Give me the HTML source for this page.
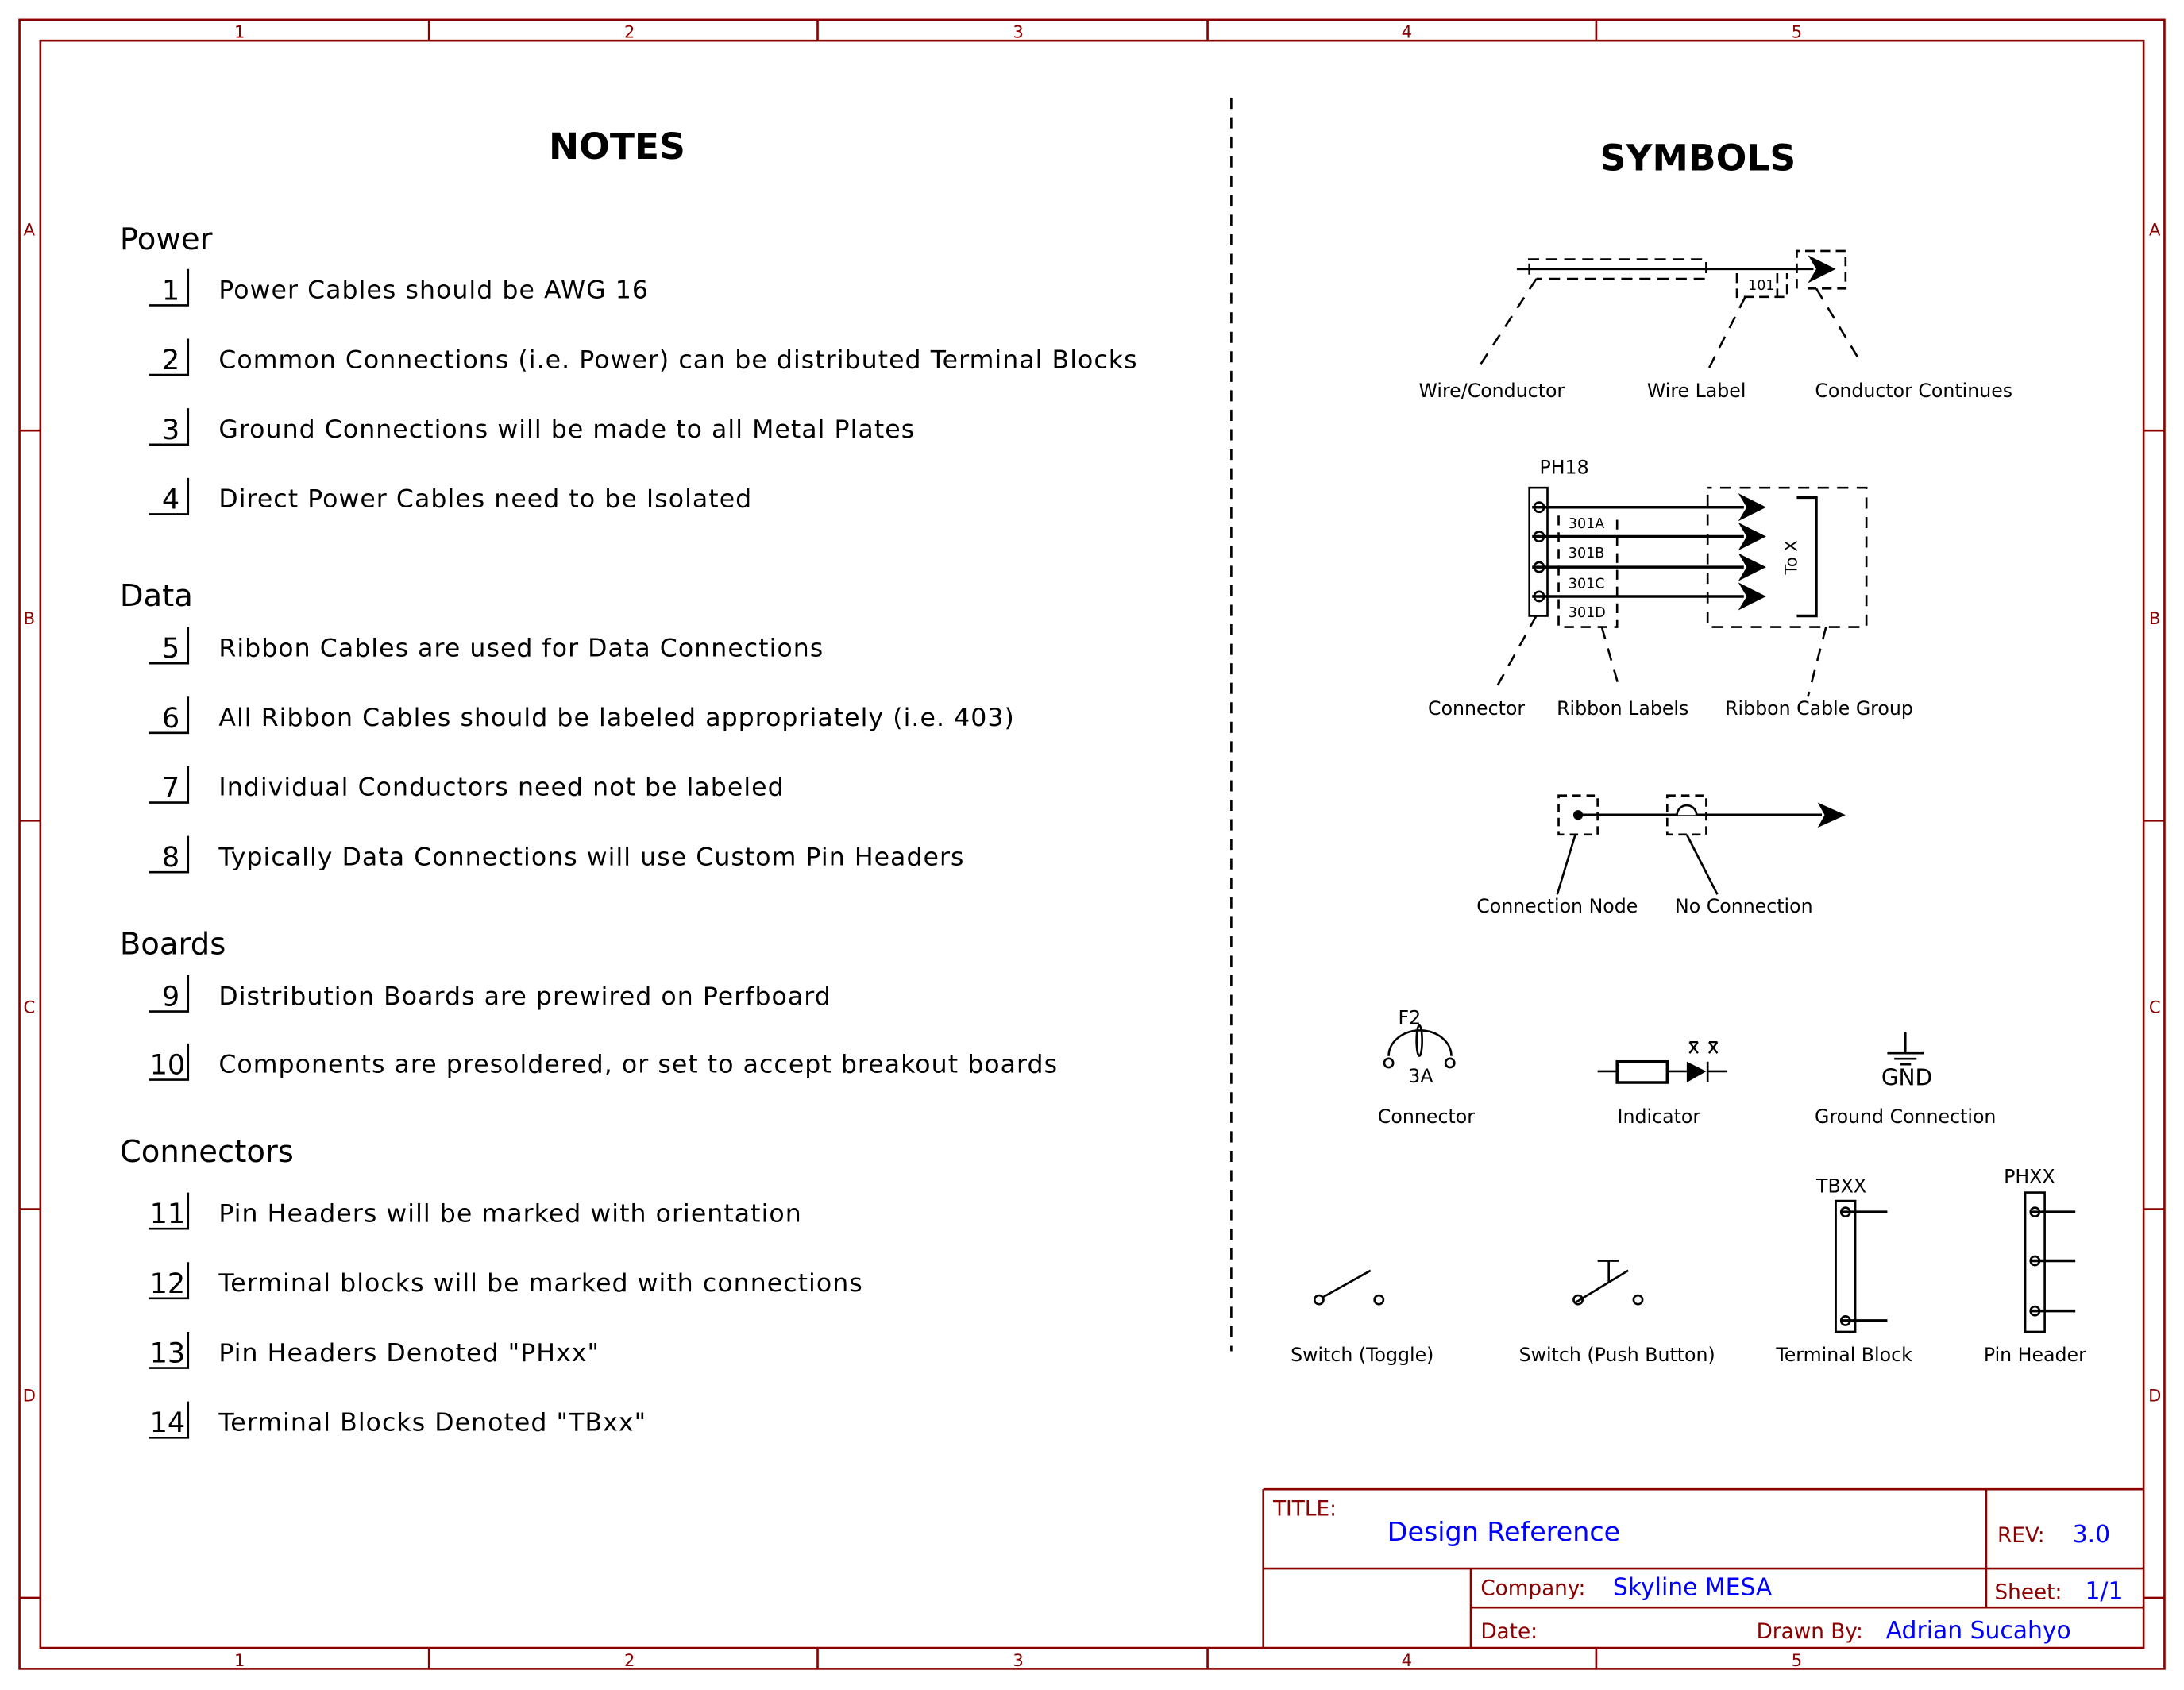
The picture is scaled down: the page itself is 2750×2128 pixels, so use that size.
<!DOCTYPE html>
<html><head><meta charset="utf-8"><style>
html,body{margin:0;padding:0;background:#fff;}
svg{display:block;}
text{font-family:"DejaVu Sans","Liberation Sans",sans-serif;}
</style></head><body>
<svg width="2750" height="2128" viewBox="0 0 1568 1213" xmlns="http://www.w3.org/2000/svg">
<g fill="none" stroke="#8b0000" stroke-width="1.5">
<rect x="14" y="14" width="1540" height="1184"/>
<rect x="29" y="29" width="1510" height="1154"/>
<path d="M308 14V29M587 14V29M867 14V29M1146 14V29M308 1183V1198M587 1183V1198M867 1183V1198M1146 1183V1198"/>
<path d="M14 309H29M14 589H29M14 868H29M14 1147H29M1539 309H1554M1539 589H1554M1539 868H1554M1539 1147H1554"/>
<path d="M907 1069H1539M907 1069V1183M1426 1069V1154M907 1126H1539M1056 1126V1183M1056 1154H1539"/>
</g>
<g fill="#8b0000" font-size="12" text-anchor="middle">
<text x="172" y="27">1</text><text x="452" y="27">2</text><text x="731" y="27">3</text><text x="1010" y="27">4</text><text x="1290" y="27">5</text>
<text x="172" y="1196">1</text><text x="452" y="1196">2</text><text x="731" y="1196">3</text><text x="1010" y="1196">4</text><text x="1290" y="1196">5</text>
<text x="21" y="169">A</text><text x="21" y="448">B</text><text x="21" y="727">C</text><text x="21" y="1006">D</text>
<text x="1547" y="169">A</text><text x="1547" y="448">B</text><text x="1547" y="727">C</text><text x="1547" y="1006">D</text>
</g>
<g font-size="15" fill="#8b0000">
<text x="914" y="1088">TITLE:</text>
<text x="1434" y="1107">REV:</text>
<text x="1063" y="1145">Company:</text>
<text x="1432" y="1148">Sheet:</text>
<text x="1063" y="1176">Date:</text>
<text x="1261" y="1176">Drawn By:</text>
</g>
<g fill="#0000ff">
<text x="996" y="1106" font-size="19">Design Reference</text>
<text x="1488" y="1107" font-size="17">3.0</text>
<text x="1158" y="1145" font-size="17">Skyline MESA</text>
<text x="1497" y="1148" font-size="17">1/1</text>
<text x="1354" y="1176" font-size="17">Adrian Sucahyo</text>
</g>

<!-- NOTES -->
<text x="443" y="114" font-size="26" font-weight="bold" text-anchor="middle">NOTES</text>
<g font-size="22"><text x="86" y="179">Power</text><text x="86" y="435">Data</text><text x="86" y="685">Boards</text><text x="86" y="834">Connectors</text></g>
<g font-size="18" letter-spacing="0.6">
<text x="157" y="214">Power Cables should be AWG 16</text>
<text x="157" y="264">Common Connections (i.e. Power) can be distributed Terminal Blocks</text>
<text x="157" y="314">Ground Connections will be made to all Metal Plates</text>
<text x="157" y="364">Direct Power Cables need to be Isolated</text>
<text x="157" y="471">Ribbon Cables are used for Data Connections</text>
<text x="157" y="521">All Ribbon Cables should be labeled appropriately (i.e. 403)</text>
<text x="157" y="571">Individual Conductors need not be labeled</text>
<text x="157" y="621">Typically Data Connections will use Custom Pin Headers</text>
<text x="157" y="721">Distribution Boards are prewired on Perfboard</text>
<text x="157" y="770">Components are presoldered, or set to accept breakout boards</text>
<text x="157" y="877">Pin Headers will be marked with orientation</text>
<text x="157" y="927">Terminal blocks will be marked with connections</text>
<text x="157" y="977">Pin Headers Denoted "PHxx"</text>
<text x="157" y="1027">Terminal Blocks Denoted "TBxx"</text>
</g>
<g font-size="20" text-anchor="end">
<text x="129" y="215">1</text><text x="129" y="265">2</text><text x="129" y="315">3</text><text x="129" y="365">4</text>
<text x="129" y="472">5</text><text x="129" y="522">6</text><text x="129" y="572">7</text><text x="129" y="622">8</text>
<text x="129" y="722">9</text><text x="133" y="771">10</text>
<text x="133" y="878">11</text><text x="133" y="928">12</text><text x="133" y="978">13</text><text x="133" y="1028">14</text>
</g>
<g stroke="#000" stroke-width="1.5" fill="none">
<path d="M135 193V219H107M135 243V269H107M135 293V319H107M135 343V369H107M135 450V476H107M135 500V526H107M135 550V576H107M135 600V626H107M135 700V726H107M135 749V775H107M135 856V882H107M135 906V932H107M135 956V982H107M135 1006V1032H107"/>
<path d="M884 70V970" stroke-dasharray="8,6"/>
</g>

<!-- SYMBOLS -->
<text x="1219" y="122" font-size="26" font-weight="bold" text-anchor="middle">SYMBOLS</text>
<g stroke="#000" fill="none" stroke-width="1.5">
<path d="M1089 193H1302M1098 189V197"/>
<path d="M1097 186H1225V200H1103" stroke-dasharray="8,5"/>
<path d="M1247 196V213H1283V196M1276 196V213" stroke-dasharray="7,4"/>
<path d="M1290 207V180H1325V207H1298" stroke-dasharray="7,4"/>
<path d="M1103 200L1060 266M1253 213L1226 266M1304 207L1336 260" stroke-dasharray="9,7"/>
<rect x="1098" y="350" width="13" height="92"/>
<circle cx="1105" cy="364" r="3.5"/><circle cx="1105" cy="385" r="3.5"/><circle cx="1105" cy="407" r="3.5"/><circle cx="1105" cy="428" r="3.5"/>
<path d="M1100 364H1252M1100 385H1252M1100 407H1252M1100 428H1252" stroke-width="2"/>
<path d="M1119 370V450H1161V370" stroke-dasharray="7,5"/>
<path d="M1226 355V450H1340V350H1226" stroke-dasharray="8,6"/>
<path d="M1290 357H1304V442H1290" stroke-width="2"/>
<path d="M1103 442L1074 494M1150 450L1162 492M1311 450L1298 500" stroke-dasharray="9,7"/>
<path d="M1133 585H1308" stroke-width="2"/>
<path d="M1119 571H1147V599H1119Z" stroke-dasharray="6,4"/>
<path d="M1197 571H1225V599H1197Z" stroke-dasharray="6,4"/>
<path d="M1131 599L1118 642M1211 599L1233 642"/>
<path d="M997 758A22 18 0 0 1 1042 758"/>
<ellipse cx="1019" cy="747" rx="2" ry="11"/>
<circle cx="997" cy="763" r="3.2"/><circle cx="1041" cy="763" r="3.2"/>
<path d="M1147 769H1161M1197 769H1211M1226 762V777M1226 769H1240"/>
<rect x="1161" y="762" width="36" height="15" stroke-width="2"/>
<path d="M1368 741V756M1355 756H1381M1360 760H1376M1364 764H1372"/>
<circle cx="947" cy="933" r="3.2"/><circle cx="990" cy="933" r="3.2"/>
<path d="M950 931L984 912"/>
<circle cx="1133" cy="933" r="3.2"/><circle cx="1176" cy="933" r="3.2"/>
<path d="M1131 935L1169 912M1147 905H1162M1155 905V920"/>
<rect x="1318" y="862" width="14" height="94"/>
<circle cx="1325" cy="870" r="3.2"/><circle cx="1325" cy="948" r="3.2"/>
<path d="M1322 870H1355M1322 948H1355" stroke-width="2"/>
<rect x="1454" y="856" width="14" height="100"/>
<circle cx="1461" cy="870" r="3.2"/><circle cx="1461" cy="905" r="3.2"/><circle cx="1461" cy="941" r="3.2"/>
<path d="M1458 870H1490M1458 905H1490M1458 941H1490" stroke-width="2"/>
</g>
<g fill="#000">
<path d="M1298 183L1318 193L1298 203L1304 193Z"/>
<path d="M1248 354L1268 364L1248 374L1254 364Z"/>
<path d="M1248 375L1268 385L1248 395L1254 385Z"/>
<path d="M1248 397L1268 407L1248 417L1254 407Z"/>
<path d="M1248 418L1268 428L1248 438L1254 428Z"/>
<path d="M1305 576L1325 585L1305 594L1310 585Z"/>
<circle cx="1133" cy="585" r="3.5"/>
<path d="M1211 762L1225 769L1211 777Z"/>
</g>
<path d="M1204 585A7 7 0 0 1 1218 585" stroke="#000" stroke-width="1.5" fill="#fff"/>
<g stroke="#000" stroke-width="1.3" fill="none">
<path d="M1213 748L1219 756M1213 748H1219M1213 756L1219 748M1227 748L1233 756M1227 748H1233M1227 756L1233 748"/>
</g>
<g font-size="10">
<text x="1255" y="208">101</text>
<text x="1126" y="379">301A</text><text x="1126" y="400">301B</text><text x="1126" y="422">301C</text><text x="1126" y="443">301D</text>
</g>
<text transform="translate(1290,400) rotate(-90)" font-size="12" text-anchor="middle">To X</text>
<g font-size="13.5" text-anchor="middle">
<text x="1071" y="285">Wire/Conductor</text><text x="1218" y="285">Wire Label</text><text x="1374" y="285">Conductor Continues</text>
<text x="1123" y="340">PH18</text>
<text x="1060" y="513">Connector</text><text x="1165" y="513">Ribbon Labels</text><text x="1306" y="513">Ribbon Cable Group</text>
<text x="1118" y="655">Connection Node</text><text x="1252" y="655">No Connection</text>
<text x="1012" y="735">F2</text><text x="1020" y="777">3A</text>
<text x="1369" y="779" font-size="16">GND</text>
<text x="1024" y="806">Connector</text><text x="1191" y="806">Indicator</text><text x="1368" y="806">Ground Connection</text>
<text x="1322" y="856">TBXX</text><text x="1457" y="849">PHXX</text>
<text x="978" y="977">Switch (Toggle)</text><text x="1161" y="977">Switch (Push Button)</text><text x="1324" y="977">Terminal Block</text><text x="1461" y="977">Pin Header</text>
</g>
</svg>
</body></html>
